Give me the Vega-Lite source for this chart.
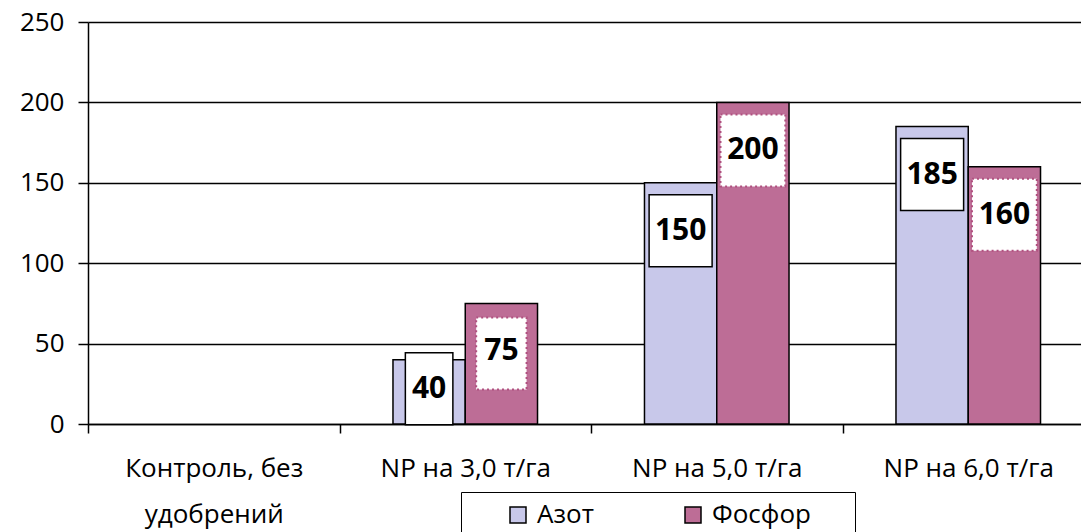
{
  "$schema": "https://vega.github.io/schema/vega-lite/v6.json",
  "autosize": {"type": "none"},
  "width": 993,
  "height": 402,
  "padding": {"left": 88, "top": 22, "right": 0, "bottom": 108},
  "background": "white",
  "config": {
    "font": "Open Sans",
    "view": {"stroke": null},
    "axis": {"labelFont": "Open Sans", "labelColor": "black"}
  },
  "data": {
    "values": [
      {"cat": "Контроль, без удобрений", "series": "Азот", "value": 0},
      {"cat": "Контроль, без удобрений", "series": "Фосфор", "value": 0},
      {"cat": "NP на 3,0 т/га", "series": "Азот", "value": 40},
      {"cat": "NP на 3,0 т/га", "series": "Фосфор", "value": 75},
      {"cat": "NP на 5,0 т/га", "series": "Азот", "value": 150},
      {"cat": "NP на 5,0 т/га", "series": "Фосфор", "value": 200},
      {"cat": "NP на 6,0 т/га", "series": "Азот", "value": 185},
      {"cat": "NP на 6,0 т/га", "series": "Фосфор", "value": 160}
    ]
  },
  "encoding": {
    "x": {
      "field": "cat", "type": "nominal", "sort": null,
      "scale": {
        "domain": ["Контроль, без удобрений", "NP на 3,0 т/га", "NP на 5,0 т/га", "NP на 6,0 т/га"],
        "range": [0, 1006], "paddingInner": 0, "paddingOuter": 0
      },
      "axis": {
        "title": null, "labelAngle": 0, "labelFontSize": 26, "labelPadding": 22,
        "labelLineHeight": 46, "labelBaseline": "top",
        "domainColor": "black", "domainWidth": 1.5, "tickColor": "black", "tickWidth": 1.5,
        "tickSize": 9, "tickBand": "extent", "grid": false,
        "labelExpr": "datum.value == 'Контроль, без удобрений' ? ['Контроль, без', 'удобрений'] : datum.label"
      }
    },
    "xOffset": {
      "field": "series", "type": "nominal", "sort": ["Азот", "Фосфор"],
      "scale": {"domain": ["Азот", "Фосфор"], "paddingInner": 0, "paddingOuter": 0.74}
    },
    "y": {
      "field": "value", "type": "quantitative",
      "scale": {"domain": [0, 250], "nice": false},
      "axis": {
        "title": null, "values": [0, 50, 100, 150, 200, 250], "labelFontSize": 26,
        "labelPadding": 14, "domainColor": "black", "domainWidth": 1.5,
        "tickColor": "black", "tickWidth": 1.5, "tickSize": 10,
        "grid": true, "gridColor": "black", "gridWidth": 1.5, "gridOpacity": 1
      }
    }
  },
  "layer": [
    {
      "transform": [{"filter": "datum.value > 0"}],
      "mark": {"type": "bar", "stroke": "black", "strokeWidth": 1.5, "opacity": 1},
      "encoding": {
        "fill": {
          "field": "series", "type": "nominal", "sort": ["Азот", "Фосфор"],
          "scale": {"domain": ["Азот", "Фосфор"], "range": ["#c8c8ea", "#bd6d96"]},
          "legend": {
            "title": " ", "titleOrient": "right", "titlePadding": 34, "titleFontSize": 10,
            "orient": "none", "direction": "horizontal",
            "legendX": 373, "legendY": 470,
            "strokeColor": "black", "padding": 10, "fillColor": "white",
            "symbolType": "square", "symbolSize": 256, "symbolStrokeColor": "black",
            "symbolStrokeWidth": 1.5, "symbolOffset": 34,
            "labelFontSize": 26, "labelColor": "black", "labelOffset": 6,
            "columnPadding": 52
          }
        }
      }
    },
    {
      "transform": [{"filter": "datum.series == 'Азот' && datum.value >= 100"}],
      "mark": {
        "type": "point", "filled": true, "fill": "white", "stroke": "black",
        "strokeWidth": 1.5, "opacity": 1, "size": 5184, "yOffset": 48,
        "shape": "M-0.875,-1H0.875V1H-0.875Z"
      }
    },
    {
      "transform": [{"filter": "datum.series == 'Азот' && datum.value > 0 && datum.value < 100"}],
      "mark": {
        "type": "point", "filled": true, "fill": "white", "stroke": "black",
        "strokeWidth": 1.5, "opacity": 1, "size": 5184, "yOffset": 29,
        "shape": "M-0.66,-1H0.66V1H-0.66Z"
      }
    },
    {
      "transform": [{"filter": "datum.series == 'Фосфор' && datum.value >= 100"}],
      "mark": {
        "type": "point", "filled": true, "fill": "white", "stroke": "#b0507f",
        "strokeWidth": 2, "strokeDash": [2, 3], "opacity": 1, "size": 5184, "yOffset": 48,
        "shape": "M-0.9,-1H0.9V1H-0.9Z"
      }
    },
    {
      "transform": [{"filter": "datum.series == 'Фосфор' && datum.value > 0 && datum.value < 100"}],
      "mark": {
        "type": "point", "filled": true, "fill": "white", "stroke": "#b0507f",
        "strokeWidth": 2, "strokeDash": [2, 3], "opacity": 1, "size": 5184, "yOffset": 50,
        "shape": "M-0.7,-1H0.7V1H-0.7Z"
      }
    },
    {
      "transform": [{"filter": "datum.value >= 50"}],
      "mark": {
        "type": "text", "fontSize": 30, "fontWeight": "bold", "color": "black",
        "baseline": "middle", "align": "center", "dy": 48
      },
      "encoding": {"text": {"field": "value", "type": "quantitative"}}
    },
    {
      "transform": [{"filter": "datum.value > 0 && datum.value < 50"}],
      "mark": {
        "type": "text", "fontSize": 30, "fontWeight": "bold", "color": "black",
        "baseline": "middle", "align": "center", "dy": 29
      },
      "encoding": {"text": {"field": "value", "type": "quantitative"}}
    }
  ]
}
